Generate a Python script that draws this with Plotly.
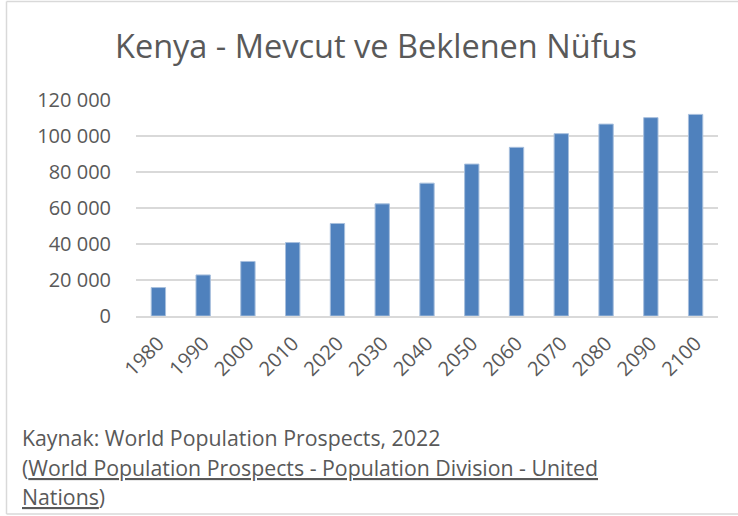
import plotly.graph_objects as go

years = ["1980", "1990", "2000", "2010", "2020", "2030", "2040", "2050", "2060", "2070", "2080", "2090", "2100"]
population = [15800, 22800, 30300, 40800, 51400, 62300, 73800, 84400, 93700, 101300, 106600, 110200, 112000]
y_ticks = [0, 20000, 40000, 60000, 80000, 100000, 120000]
y_tick_labels = ["0", "20 000", "40 000", "60 000", "80 000", "100 000", "120 000"]

W, H = 738, 516
L, R, T, B = 136, 20, 100, 200
pw, ph = W - L - R, H - T - B

def px(x):
    return (x - L) / pw

def py(y):
    return 1 - (y - T) / ph

font_fam = "Open Sans, Liberation Sans, sans-serif"
grey = "#595959"

fig = go.Figure(go.Bar(
    x=years, y=population,
    marker=dict(color="#4f81bd", line=dict(color="#a7bfdd", width=1)),
    width=0.32,
))

fig.update_layout(
    width=W, height=H,
    margin=dict(l=L, r=R, t=T, b=B, pad=0),
    paper_bgcolor="white", plot_bgcolor="white",
    showlegend=False,
    title=dict(text="Kenya - Mevcut ve Beklenen Nüfus", x=376 / W, xanchor="center",
               y=1 - 47 / H, yanchor="middle",
               font=dict(family=font_fam, size=32.5, color=grey)),
    font=dict(family=font_fam, color=grey),
)
fig.update_xaxes(
    type="category", tickangle=-45, tickfont=dict(size=20, color=grey),
    showline=True, linecolor="#d9d9d9", linewidth=1.5, showgrid=False,
    ticks="outside", ticklen=6, tickcolor="rgba(0,0,0,0)",
)
fig.update_yaxes(
    range=[0, 120000], tickvals=y_ticks, ticktext=y_tick_labels,
    tickfont=dict(size=20, color=grey), showgrid=True, gridcolor="#d9d9d9",
    gridwidth=1.5, zeroline=False, showline=False, ticks="outside", ticklen=20,
    tickcolor="rgba(0,0,0,0)",
)

src_font = dict(family=font_fam, size=21.3, color=grey)
fig.add_annotation(
    xref="paper", yref="paper", x=px(20), y=py(437), xanchor="left", yanchor="middle",
    showarrow=False, align="left",
    text="Kaynak: World Population Prospects, 2022", font=src_font,
)
fig.add_annotation(
    xref="paper", yref="paper", x=px(20), y=py(467), xanchor="left", yanchor="middle",
    showarrow=False, align="left",
    text="(<u>World Population Prospects - Population Division - United</u>", font=src_font,
)
fig.add_annotation(
    xref="paper", yref="paper", x=px(20), y=py(496), xanchor="left", yanchor="middle",
    showarrow=False, align="left",
    text="<u>Nations</u>)", font=src_font,
)
border = dict(color="#d9d9d9", width=1.5)
for x0, y0, x1, y1 in [(6.5, 1.5, W, 1.5), (6.5, 1.5, 6.5, 514), (6.5, 514, W, 514)]:
    fig.add_shape(type="line", xref="paper", yref="paper",
                  x0=px(x0), y0=py(y0), x1=px(x1), y1=py(y1), line=border, layer="below")

fig.write_html("out.html", config={"displayModeBar": False},
               post_script="document.body.style.margin='0';document.body.style.overflow='hidden';")
